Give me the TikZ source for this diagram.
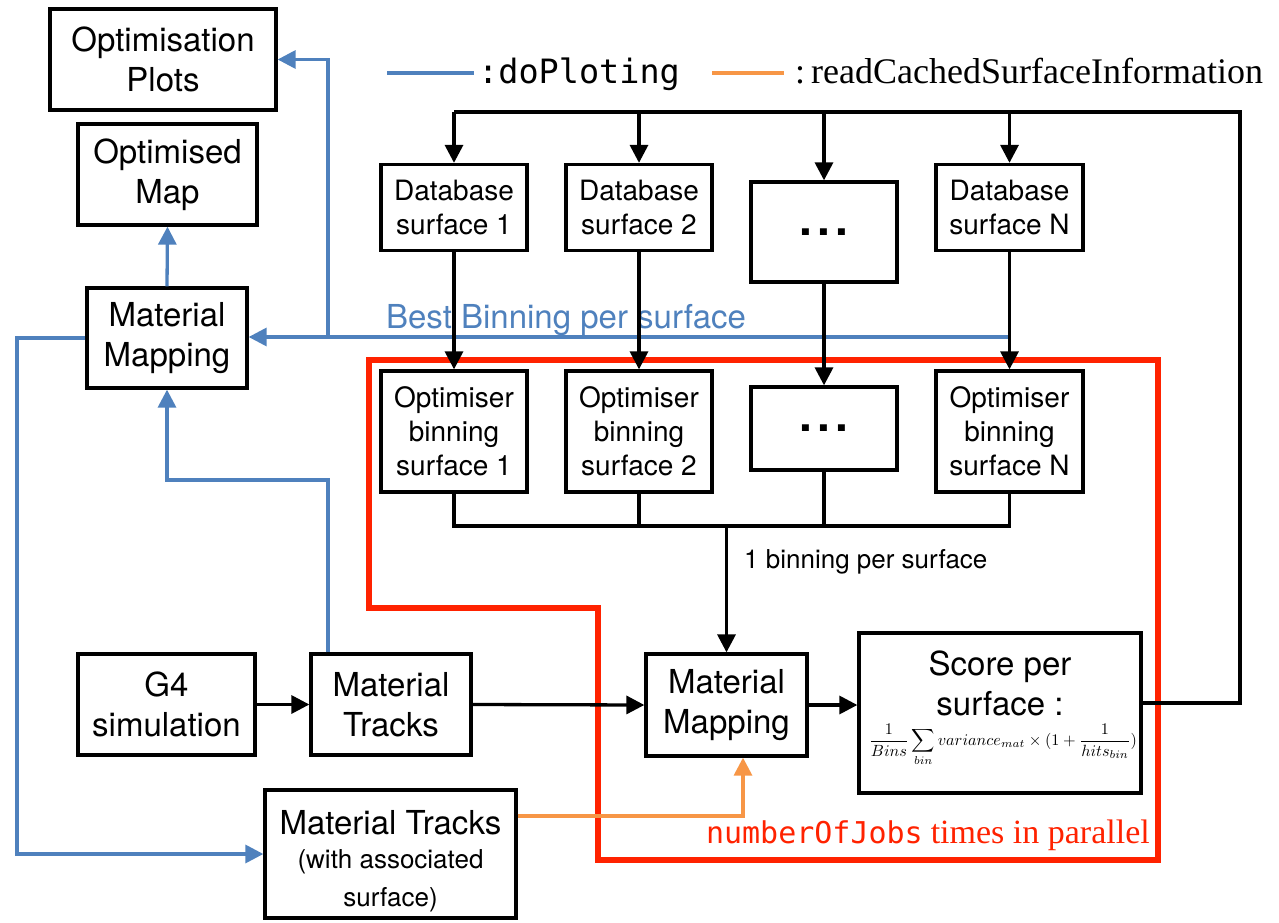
\documentclass[tikz,border=0pt]{standalone}
\usepackage{fontspec}
\setmainfont{TeX Gyre Heros}
\newfontfamily\monof{DejaVu Sans Mono}
\newfontfamily\serf{Liberation Serif}
\usepackage{graphicx}
\usetikzlibrary{arrows.meta}
\definecolor{myblue}{RGB}{79,129,189}
\definecolor{myorange}{RGB}{247,150,70}
\definecolor{myred}{RGB}{255,34,0}
\newcommand{\mydots}{.\hspace{5pt}.\hspace{5pt}.}
\begin{document}
\begin{tikzpicture}[x=1pt,y=-1pt,
  box/.style={draw=black,line width=3.3pt,fill=white,inner sep=0pt,align=center,font=\fontsize{33}{40}\selectfont},
  sbox/.style={box,font=\fontsize{28}{34}\selectfont},
  dbox/.style={box,font=\fontsize{46}{46}\selectfont\bfseries},
  txt/.style={inner sep=0pt},
  blk/.style={line width=3.3pt,draw=black},
  blu/.style={line width=3.3pt,draw=myblue},
  org/.style={line width=3.3pt,draw=myorange},
  arr/.style={-{Triangle[length=18pt,width=18pt]}},
]
\useasboundingbox (0,0) rectangle (1279,923);

% red frame
\draw[myred,line width=6pt] (369,360) -- (1158,360) -- (1158,860) -- (598,860) -- (598,608) -- (369,608) -- cycle;

% nodes
\node[box,minimum width=226pt,minimum height=101pt] (plots) at (163,59.5) {Optimisation\\Plots};
\node[box,minimum width=179pt,minimum height=101pt] (omap) at (167.5,174.5) {Optimised\\Map};
\node[box,minimum width=160pt,minimum height=100pt] (mmL) at (167,338) {Material\\Mapping};

\node[sbox,minimum width=146pt,minimum height=86pt] (db1) at (454,207.5) {Database\\surface 1};
\node[sbox,minimum width=146pt,minimum height=86pt] (db2) at (639,207.5) {Database\\surface 2};
\node[dbox,minimum width=146pt,minimum height=100pt] (dbd) at (824,232) {\mydots};
\node[sbox,minimum width=147pt,minimum height=86pt] (dbN) at (1009.5,207.5) {Database\\surface N};

\node[sbox,minimum width=146pt,minimum height=121pt] (op1) at (454,431.5) {Optimiser\\binning\\surface 1};
\node[sbox,minimum width=146pt,minimum height=121pt] (op2) at (639,431.5) {Optimiser\\binning\\surface 2};
\node[dbox,minimum width=146pt,minimum height=83pt] (opd) at (824,428.5) {\mydots};
\node[sbox,minimum width=147pt,minimum height=121pt] (opN) at (1009.5,431.5) {Optimiser\\binning\\surface N};

\node[box,minimum width=177pt,minimum height=101pt] (g4) at (166.5,704.5) {G4\\simulation};
\node[box,minimum width=160pt,minimum height=101pt] (mt) at (391,704.5) {Material\\Tracks};
\node[box,minimum width=161pt,minimum height=102pt] (mmM) at (726.5,705) {Material\\Mapping};
\node[box,minimum width=282pt,minimum height=160pt] (score) at (1000,713) {};
\node[txt,anchor=base,font=\fontsize{33}{40}\selectfont] (scA) at (1000,675) {Score per};
\node[txt,anchor=base,font=\fontsize{33}{40}\selectfont] (scB) at (1000,715) {surface :};
\node[txt] (scF) at (1003,745) {\resizebox{268pt}{!}{$\displaystyle \frac{1}{Bins}\sum_{bin} variance_{mat}\times(1+\frac{1}{hits_{bin}})$}};

\node[box,minimum width=251pt,minimum height=128pt] (mt2) at (390.5,854) {};
\node[txt,anchor=base,font=\fontsize{33}{40}\selectfont] (mt2a) at (390.5,834) {Material Tracks};
\node[txt,anchor=base,font=\fontsize{26}{30}\selectfont] (mt2b) at (390.5,868) {(with associated};
\node[txt,anchor=base,font=\fontsize{26}{30}\selectfont] (mt2c) at (390.5,906) {surface)};

% legend
\coordinate (lb1) at (387,73); \coordinate (lb2) at (474,73);
\draw[blu] (lb1) -- (lb2);
\node[txt,anchor=base west,font=\monof\fontsize{33.5}{33}\selectfont] (lgb) at (478,84) {:doPloting};
\coordinate (lo1) at (712,73); \coordinate (lo2) at (784,73);
\draw[org] (lo1) -- (lo2);
\node[txt,anchor=base west,font=\serf\fontsize{36}{36}\selectfont] (lgo) at (795,84) {:\hspace{6pt}readCachedSurfaceInformation};

% blue connectors
\coordinate (bbs) at (1009.5,337);
\coordinate (bbj) at (328,337);
\draw[blu,arr] (bbs) -- (bbs -| mmL.east);
\draw[blu,arr] (bbj) -- (bbj |- plots.east) -- (plots.east);
\node[txt,anchor=base,text=myblue,font=\fontsize{33}{40}\selectfont] (bbl) at (566,328) {Best Binning per surface};
\draw[blu,arr] (mmL.north) -- (omap.south);
\coordinate (mtj) at (328,480);
\draw[blu,arr] (mtj |- mt.north) -- (mtj) -- (mtj -| mmL.south) -- (mmL.south);
\coordinate (lc) at (17,337);
\draw[blu,arr] (mmL.west) -- (mmL.west -| lc) -- (lc |- mt2.west) -- (mt2.west);

% orange connector
\coordinate (oc) at (743,816);
\draw[org,arr] (oc -| mt2.east) -- (oc) -- (oc |- mmM.south);

% black connectors
\coordinate (sc) at (1240,703);
\coordinate (busR) at (1240,112);
\coordinate (busL) at (454,112);
\draw[blk] (sc -| score.east) -- (sc) -- (busR) -- (busL);
\draw[blk,arr] (busL) -- (db1.north);
\draw[blk,arr] (db2.north |- busL) -- (db2.north);
\draw[blk,arr] (dbd.north |- busL) -- (dbd.north);
\draw[blk,arr] (dbN.north |- busL) -- (dbN.north);
\draw[blk,arr] (db1.south) -- (op1.north);
\draw[blk,arr] (db2.south) -- (op2.north);
\draw[blk,arr] (dbd.south) -- (opd.north);
\draw[blk,arr] (dbN.south) -- (opN.north);
\coordinate (jl) at (454,526);
\draw[blk] (op1.south) -- (jl) -- (jl -| opN.south) -- (opN.south);
\draw[blk] (op2.south) -- (op2.south |- jl);
\draw[blk] (opd.south) -- (opd.south |- jl);
\draw[blk,arr] (mmM.north |- jl) -- (mmM.north);
\node[txt,anchor=base west,font=\fontsize{26}{30}\selectfont] (onep) at (744,568) {1 binning per surface};
\draw[blk,arr] (g4.east) -- (mt.west);
\draw[blk,arr] (mt.east) -- (mmM.west);
\draw[blk,arr] (mmM.east) -- (score.west |- mmM.east);

% red label
\node[txt,anchor=base east,text=myred] (par) at (1150,843) {{\monof\fontsize{30}{30}\selectfont numberOfJobs}\hspace{8pt}{\serf\fontsize{34}{34}\selectfont times in parallel}};
\end{tikzpicture}
\end{document}
